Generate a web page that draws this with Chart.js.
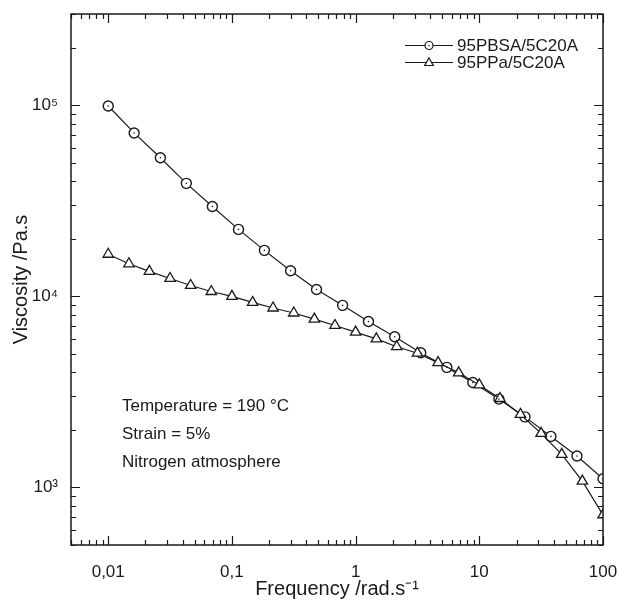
<!DOCTYPE html>
<html>
<head>
<meta charset="utf-8">
<script src="https://cdn.jsdelivr.net/npm/chart.js@4.4.1/dist/chart.umd.min.js"></script>
<style>
  html, body { margin: 0; padding: 0; background: #fff; }
  canvas { display: block; }
</style>
</head>
<body>
<canvas id="chart-visc" width="618" height="604"></canvas>
<script>
const FONT = '"Liberation Sans", Arial, sans-serif';
const INK = "#1a1a1a";

// values
const freqPBSA = [0.01, 0.0162, 0.0264, 0.0428, 0.0695, 0.113, 0.183, 0.298, 0.483, 0.785,
	1.27, 2.07, 3.36, 5.46, 8.86, 14.4, 23.4, 37.9, 61.6, 100];
const viscPBSA = [99000, 71600, 53100, 39000, 29500, 22400, 17400, 13600, 10850, 8970,
	7390, 6150, 5070, 4250, 3540, 2900, 2340, 1850, 1460, 1110];

const freqPPa = [0.01, 0.0147, 0.0215, 0.0316, 0.0464, 0.0681, 0.1, 0.147, 0.215, 0.316,
	0.464, 0.681, 1, 1.47, 2.15, 3.16, 4.64, 6.81, 10, 14.7, 21.5, 31.6, 46.4, 68.1, 100];
const viscPPa = [16600, 14800, 13500, 12400, 11400, 10600, 10000, 9290, 8690, 8180,
	7600, 7040, 6500, 5990, 5450, 5040, 4500, 3980, 3440, 2920, 2410, 1920, 1490, 1080, 718];

const seriesNames = ["95PBSA/5C20A", "95PPa/5C20A"];
const xTickValues = [0.01, 0.1, 1, 10, 100];
const xTickLabels = ["0,01", "0,1", "1", "10", "100"];
const yTickValues = [1000, 10000, 100000];
const yTickLabels = ["10³", "10⁴", "10⁵"];
const notes = ["Temperature = 190 °C", "Strain = 5%", "Nitrogen atmosphere"];

function logSteps(min, max) {
	const out = [];
	for (let e = Math.floor(Math.log10(min)); e <= Math.ceil(Math.log10(max)); e++) {
		for (let k = 1; k <= 9; k++) {
			const v = k * Math.pow(10, e);
			if (v >= min * 0.999 && v <= max * 1.001) out.push({ v, major: k === 1 });
		}
	}
	return out;
}

const decorations = {
	id: "decorations",
	afterDraw(chart) {
		const { ctx, chartArea: a, scales } = chart;
		const draw = Chart.helpers.drawPoint;
		ctx.save();
		ctx.strokeStyle = INK;

		// inward ticks on all four sides
		ctx.lineWidth = 1.2;
		ctx.beginPath();
		for (const t of logSteps(scales.x.min, scales.x.max)) {
			const px = Math.round(scales.x.getPixelForValue(t.v)) + 0.5;
			const len = t.major ? 9 : 5;
			ctx.moveTo(px, a.bottom);
			ctx.lineTo(px, a.bottom - len);
			ctx.moveTo(px, a.top);
			ctx.lineTo(px, a.top + len);
		}
		for (const t of logSteps(scales.y.min, scales.y.max)) {
			const py = Math.round(scales.y.getPixelForValue(t.v)) + 0.5;
			const len = t.major ? 9 : 5;
			ctx.moveTo(a.left, py);
			ctx.lineTo(a.left + len, py);
			ctx.moveTo(a.right, py);
			ctx.lineTo(a.right - len, py);
		}
		ctx.stroke();

		// frame
		ctx.lineWidth = 1.5;
		ctx.strokeRect(a.left, a.top, a.right - a.left, a.bottom - a.top);

		// legend
		ctx.lineWidth = 1.2;
		ctx.font = "17px " + FONT;
		ctx.textBaseline = "middle";
		ctx.textAlign = "left";
		const rows = [45, 62];
		rows.forEach((y, i) => {
			ctx.beginPath();
			ctx.moveTo(405, y + 0.5);
			ctx.lineTo(453, y + 0.5);
			ctx.stroke();
			ctx.fillStyle = "#fff";
			if (i === 0) {
				draw(ctx, { pointStyle: "circle", radius: 4, rotation: 0, borderWidth: 1.2 }, 429, y + 0.5);
				ctx.fillStyle = INK;
				draw(ctx, { pointStyle: "circle", radius: 0.7, rotation: 0, borderWidth: 0 }, 429, y + 0.5);
			} else {
				draw(ctx, { pointStyle: "triangle", radius: 5, rotation: 0, borderWidth: 1.2 }, 429, y + 1);
			}
			ctx.fillStyle = INK;
			ctx.fillText(seriesNames[i], 457, y + 1);
		});

		// test conditions
		ctx.textBaseline = "alphabetic";
		const baselines = [411, 438.5, 467];
		notes.forEach((s, i) => ctx.fillText(s, 122, baselines[i]));
		ctx.restore();
	},
};

const ctx = document.getElementById("chart-visc");

const pbsaPoints = freqPBSA.map((f, i) => ({ x: f, y: viscPBSA[i] }));
const ppaPoints = freqPPa.map((f, i) => ({ x: f, y: viscPPa[i] }));

const data = {
	datasets: [
		{
			label: seriesNames[0],
			data: pbsaPoints,
			order: 2,
			borderColor: INK,
			borderWidth: 1.2,
			pointStyle: "circle",
			pointRadius: 5,
			pointBorderWidth: 1.4,
			pointBackgroundColor: "#fff",
		},
		{
			// centre dots of the circle markers
			label: seriesNames[0] + " centre",
			data: pbsaPoints,
			order: 0,
			showLine: false,
			pointStyle: "circle",
			pointRadius: 0.8,
			pointBorderWidth: 0,
			pointBackgroundColor: INK,
		},
		{
			label: seriesNames[1],
			data: ppaPoints,
			order: 1,
			borderColor: INK,
			borderWidth: 1.2,
			pointStyle: "triangle",
			pointRadius: 6,
			pointBorderWidth: 1.3,
			pointBackgroundColor: "#fff",
		},
	],
};

const options = {
	responsive: false,
	animation: false,
	layout: { padding: { top: 14, right: 15, left: 0, bottom: 0 } },
	plugins: {
		legend: { display: false },
		tooltip: { enabled: false },
	},
	scales: {
		x: {
			type: "logarithmic",
			min: 0.005,
			max: 100,
			grid: { display: false },
			border: { display: false },
			afterBuildTicks: (s) => {
				s.ticks = xTickValues.map((v) => ({ value: v }));
			},
			afterFit: (s) => {
				s.height = 59;
				s.paddingLeft = 0;
				s.paddingRight = 0;
			},
			ticks: {
				autoSkip: false,
				maxRotation: 0,
				padding: 9,
				color: INK,
				font: { family: FONT, size: 17 },
				callback: (v) => xTickLabels[xTickValues.indexOf(v)],
			},
			title: {
				display: true,
				text: "Frequency /rad.s⁻¹",
				color: INK,
				font: { family: FONT, size: 20 },
				padding: { top: 0, bottom: 3 },
			},
		},
		y: {
			type: "logarithmic",
			min: 500,
			max: 300000,
			grid: { display: false },
			border: { display: false },
			afterBuildTicks: (s) => {
				s.ticks = yTickValues.map((v) => ({ value: v }));
			},
			afterFit: (s) => {
				s.width = 71;
				s.paddingTop = 0;
				s.paddingBottom = 0;
			},
			ticks: {
				autoSkip: false,
				padding: 5,
				color: INK,
				font: { family: FONT, size: 17 },
				callback: (v) => yTickLabels[yTickValues.indexOf(v)],
			},
			title: {
				display: true,
				text: "Viscosity /Pa.s",
				color: INK,
				font: { family: FONT, size: 20 },
				padding: { top: 9, bottom: 0 },
			},
		},
	},
};

new Chart(ctx, {
	type: "line",
	data: data,
	options: options,
	plugins: [decorations],
});
</script>
</body>
</html>
